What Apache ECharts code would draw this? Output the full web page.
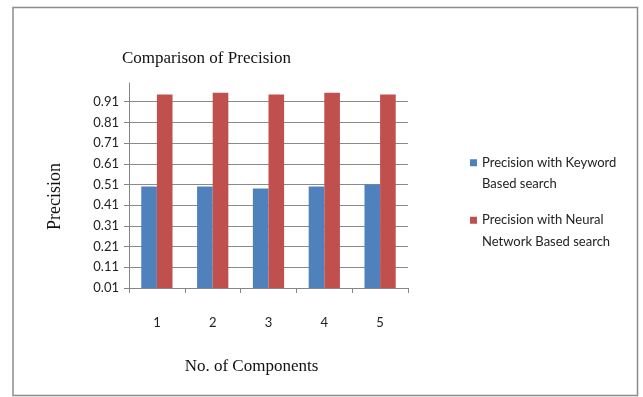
<!DOCTYPE html>
<html>
<head>
<meta charset="utf-8">
<script src="https://cdn.jsdelivr.net/npm/echarts@6/dist/echarts.min.js"></script>
<style>
  html, body { margin: 0; padding: 0; background: #fff; }
  #chart { width: 643px; height: 397px; }
</style>
</head>
<body>
<div id="chart"></div>
<script>
// data
var components = ['1', '2', '3', '4', '5'];
var keywordPrecision = [0.50, 0.50, 0.49, 0.50, 0.51];
var neuralPrecision = [0.945, 0.953, 0.945, 0.953, 0.945];
var seriesNames = ['Precision with Keyword Based search', 'Precision with Neural Network Based search'];
// legend text, broken over two lines like the original
var legendLabels = ['Precision with Keyword\nBased search', 'Precision with Neural\nNetwork Based search'];

var chart = echarts.init(document.getElementById('chart'));

// one legend per entry; a blank first line puts the marker beside the first text line
function makeLegend(i, top) {
    return {
        orient: 'vertical',
        left: 470,
        top: top,
        padding: 0,
        itemWidth: 7,
        itemHeight: 7,
        icon: 'rect',
        data: [seriesNames[i]],
        formatter: function () {
            return '\n' + legendLabels[i];
        },
        textStyle: {
            fontFamily: 'Lato',
            fontSize: 13,
            lineHeight: 21.5,
            color: '#222'
        }
    };
}

chart.setOption({
    animation: false,
    color: ['#4F81BD', '#C0504D'],
    // chart border
    graphic: [{
        type: 'rect',
        shape: { x: 13, y: 7.5, width: 624.5, height: 388 },
        style: { fill: 'none', stroke: '#8c8c8c', lineWidth: 1.5 }
    }],
    title: {
        text: 'Comparison of Precision',
        left: 117,
        top: 45,
        textStyle: {
            fontFamily: 'Liberation Serif',
            fontWeight: 'normal',
            fontSize: 17,
            color: '#111'
        }
    },
    legend: [makeLegend(0, 130.5), makeLegend(1, 188)],
    grid: {
        left: 129,
        right: 235,
        top: 83,
        bottom: 109
    },
    xAxis: {
        type: 'category',
        data: components,
        name: 'No. of Components',
        nameLocation: 'middle',
        nameGap: 70,
        nameTextStyle: {
            fontFamily: 'Liberation Serif',
            fontSize: 17,
            color: '#111',
            padding: [0, 34, 0, 0]
        },
        axisLine: { lineStyle: { color: '#868686', width: 1 } },
        axisTick: { show: true, length: 5, lineStyle: { color: '#868686' } },
        axisLabel: {
            margin: 28,
            fontFamily: 'Lato',
            fontSize: 13,
            color: '#222'
        }
    },
    yAxis: {
        type: 'value',
        min: 0.01,
        max: 1.0,
        interval: 0.1,
        name: 'Precision',
        nameLocation: 'middle',
        nameGap: 65,
        nameTextStyle: {
            fontFamily: 'Liberation Serif',
            fontSize: 18,
            color: '#111',
            padding: [0, 22, 0, 0]
        },
        axisLine: { show: true, lineStyle: { color: '#868686', width: 1 } },
        axisTick: { show: true, length: 5, lineStyle: { color: '#868686' } },
        axisLabel: {
            margin: 10,
            fontFamily: 'Lato',
            fontSize: 13,
            color: '#222',
            showMaxLabel: false,
            formatter: function (v) { return v.toFixed(2); }
        },
        splitLine: {
            show: true,
            showMaxLine: false,
            lineStyle: { color: '#8a8a8a', width: 1 }
        }
    },
    series: [{
        name: seriesNames[0],
        type: 'bar',
        data: keywordPrecision,
        barGap: '0%',
        barCategoryGap: '44%'
    }, {
        name: seriesNames[1],
        type: 'bar',
        data: neuralPrecision,
        barGap: '0%',
        barCategoryGap: '44%'
    }]
});
</script>
</body>
</html>
